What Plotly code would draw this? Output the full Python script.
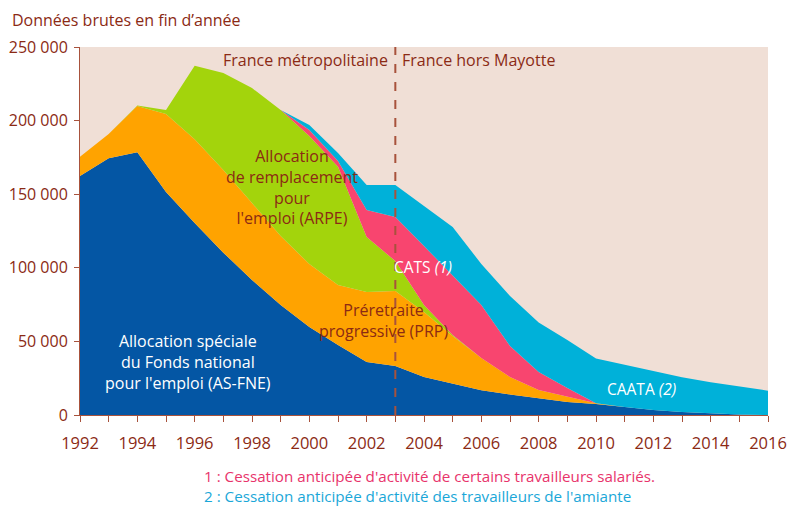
import plotly.graph_objects as go

years = list(range(1992, 2017))

as_fne = [162400, 174400, 178500, 151500, 130400, 110300, 91700, 74700, 59800, 47500,
          36000, 33300, 25800, 21400, 16800, 14000, 11500, 8800, 7500, 5400,
          3400, 2000, 1000, 300, 0]
prp = [13100, 16500, 31400, 53000, 56900, 56100, 52300, 46900, 42800, 40800,
       47600, 50900, 44200, 32300, 21900, 11800, 5500, 3400, 400, 0,
       0, 0, 0, 0, 0]
arpe = [0, 0, 400, 2700, 50000, 65900, 78100, 85600, 86900, 80400,
        37300, 20400, 4700, 600, 0, 0, 0, 0, 0, 0,
        0, 0, 0, 0, 0]
cats = [0, 0, 0, 0, 0, 0, 0, 0, 4100, 3900,
        18400, 29900, 40100, 40800, 36000, 21100, 12200, 6100, 0, 0,
        0, 0, 0, 0, 0]
caata = [0, 0, 0, 0, 0, 0, 0, 0, 3400, 5400,
         16900, 21700, 27200, 32600, 27900, 33900, 33600, 32700, 30500, 28600,
         26700, 23600, 21200, 18900, 16500]

series = [
    ("AS-FNE", as_fne, "#0456A4"),
    ("PRP", prp, "#FFA300"),
    ("ARPE", arpe, "#A3D40C"),
    ("CATS", cats, "#F8456F"),
    ("CAATA", caata, "#00B1D9"),
]

y_tickvals = [0, 50000, 100000, 150000, 200000, 250000]
y_ticktext = ["0", "50 000", "100 000", "150 000", "200 000", "250 000"]
x_ticktext = [str(y) if y % 2 == 0 else "" for y in years]

DARK = "#8B2A14"
AXIS = "#A8523C"
FONT = "Open Sans"

fig = go.Figure()
for name, vals, col in series:
    fig.add_trace(go.Scatter(
        x=years, y=vals, name=name, mode="lines", stackgroup="one",
        line=dict(width=0, color=col), fillcolor=col, hoverinfo="skip"))

fig.add_shape(type="line", x0=2003, x1=2003, y0=0, y1=250000, xref="x", yref="y",
              line=dict(color=AXIS, width=2, dash="dash"))

ann = [
    (2002.8, 241000, "France métropolitaine", DARK, "right", 16),
    (2003.15, 241000, "France hors Mayotte", DARK, "left", 16),
    (1995.75, 36000, "Allocation spéciale<br>du Fonds national<br>pour l'emploi (AS-FNE)", "white", "center", 16),
    (1999.4, 155000, "Allocation<br>de remplacement<br>pour<br>l'emploi (ARPE)", DARK, "center", 16),
    (2002.6, 64300, "Préretraite<br>progressive (PRP)", DARK, "center", 16),
    (2003.98, 100500, "CATS <i>(1)</i>", "white", "center", 15.5),
    (2011.58, 17500, "CAATA <i>(2)</i>", "white", "center", 15.5),
]
for x, y, t, c, al, sz in ann:
    fig.add_annotation(x=x, y=y, xref="x", yref="y", text=t, showarrow=False,
                       font=dict(family=FONT, size=sz, color=c), align=al,
                       xanchor=al, yanchor="middle")

fig.add_annotation(x=-70 / 688, y=1 + 27 / 368, xref="paper", yref="paper", showarrow=False,
                   text="Données brutes en fin d’année", xanchor="left", yanchor="middle",
                   font=dict(family=FONT, size=16, color=DARK))
fig.add_annotation(x=122 / 688, y=-61 / 368, xref="paper", yref="paper", showarrow=False,
                   text="1 : Cessation anticipée d'activité de certains travailleurs salariés.",
                   font=dict(family=FONT, size=15.2, color="#E8336B"), xanchor="left",
                   yanchor="middle")
fig.add_annotation(x=122 / 688, y=-81 / 368, xref="paper", yref="paper", showarrow=False,
                   text="2 : Cessation anticipée d'activité des travailleurs de l'amiante",
                   font=dict(family=FONT, size=15.2, color="#1AA7D8"), xanchor="left",
                   yanchor="middle")

fig.update_layout(
    width=787, height=506,
    margin=dict(l=80, r=19, t=47, b=91, autoexpand=False),
    paper_bgcolor="white", plot_bgcolor="#F0DFD6",
    showlegend=False,
    font=dict(family=FONT, color=DARK),
)

fig.update_xaxes(range=[1992, 2016], tickvals=years, ticktext=x_ticktext, automargin=False,
                 showgrid=False, zeroline=False, showline=True, linecolor=AXIS, linewidth=1,
                 ticks="outside", ticklen=6, tickcolor=AXIS, ticklabelstandoff=7,
                 tickfont=dict(family=FONT, size=16.5, color=DARK))
fig.update_yaxes(range=[0, 250000], tickvals=y_tickvals, ticktext=y_ticktext, automargin=False,
                 showgrid=False, zeroline=False, showline=True, linecolor=AXIS, linewidth=1,
                 ticks="outside", ticklen=5, tickcolor=AXIS, ticklabelstandoff=3,
                 tickfont=dict(family=FONT, size=16, color=DARK))

fig.write_html("out.html", config={"displayModeBar": False},
               post_script="document.body.style.margin='0';document.body.style.overflow='hidden';")
